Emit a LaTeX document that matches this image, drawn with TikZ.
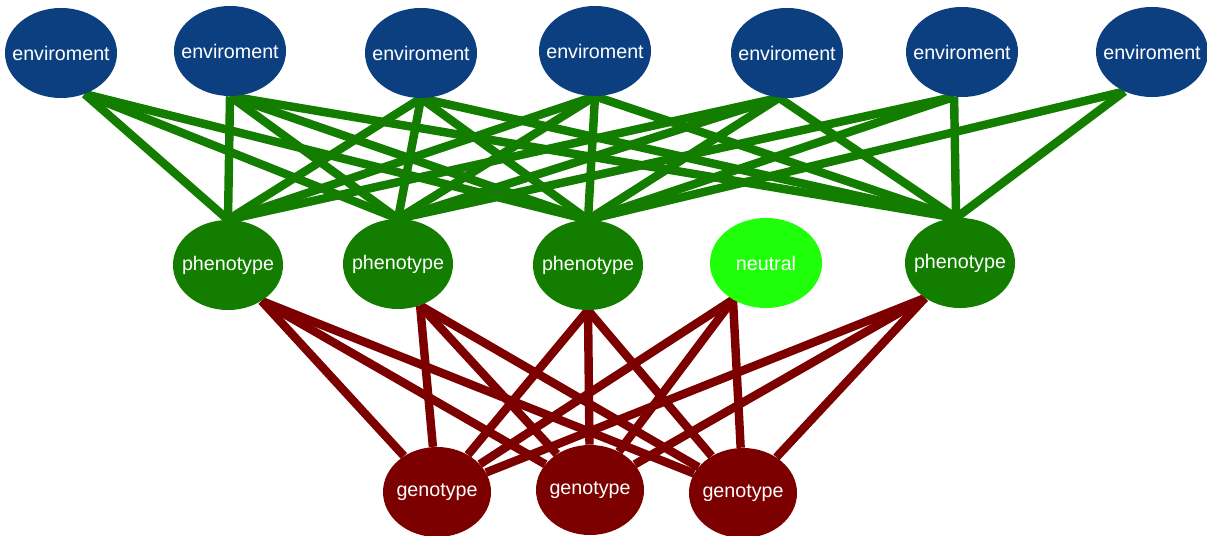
\documentclass[tikz,border=0pt]{standalone}
\usepackage{fontspec}
\setmainfont{Liberation Sans}
\usepackage{tikz}
\usetikzlibrary{shapes.geometric,backgrounds}
\definecolor{envblue}{RGB}{11, 63, 128}
\definecolor{phenogreen}{RGB}{19, 125, 0}
\definecolor{neutralgreen}{RGB}{32, 255, 10}
\definecolor{genored}{RGB}{125, 0, 0}
\newcommand{\blobtext}[1]{\makebox[0pt]{#1}}
\tikzstyle{blob}=[shape=ellipse, inner sep=0pt, text=white, font=\fontsize{14}{16}\selectfont]
\tikzstyle{envnode}=[blob, fill=envblue, minimum width=2.8cm, minimum height=2.25cm]
\tikzstyle{phenonode}=[blob, fill=phenogreen, minimum width=2.75cm, minimum height=2.25cm]
\tikzstyle{neutralnode}=[blob, fill=neutralgreen, minimum width=2.8cm, minimum height=2.25cm]
\tikzstyle{genonode}=[blob, fill=genored, minimum width=2.7cm, minimum height=2.25cm]
\tikzstyle{envlink}=[line width=6pt, color=phenogreen]
\tikzstyle{genolink}=[line width=6pt, color=genored]

\begin{document}
\begin{tikzpicture}[x=0.025cm, y=-0.025cm]
    \useasboundingbox (0,0) rectangle (1207,536);

    % Environment nodes
    \node[envnode] (env1) at (61,53) {\blobtext{enviroment}};
    \node[envnode] (env2) at (230,51) {\blobtext{enviroment}};
    \node[envnode] (env3) at (421,53) {\blobtext{enviroment}};
    \node[envnode] (env4) at (595,51) {\blobtext{enviroment}};
    \node[envnode] (env5) at (787,53) {\blobtext{enviroment}};
    \node[envnode] (env6) at (962,52) {\blobtext{enviroment}};
    \node[envnode] (env7) at (1152,52) {\blobtext{enviroment}};

    % Phenotype nodes
    \node[phenonode] (pheno1) at (228,265) {\blobtext{phenotype}};
    \node[phenonode] (pheno2) at (398,264) {\blobtext{phenotype}};
    \node[phenonode] (pheno3) at (588,265) {\blobtext{phenotype}};
    \node[neutralnode] (neutral) at (766,263) {\blobtext{neutral}};
    \node[phenonode] (pheno4) at (960,263) {\blobtext{phenotype}};

    % Genotype nodes
    \node[genonode] (geno1) at (437,492) {\blobtext{genotype}};
    \node[genonode] (geno2) at (590,490) {\blobtext{genotype}};
    \node[genonode] (geno3) at (743,493) {\blobtext{genotype}};

    \begin{scope}[on background layer]
    % Environment to phenotype
    \draw[envlink] (env1.-60) -- (pheno1.north);
    \draw[envlink] (env1.-60) -- (pheno2.north);
    \draw[envlink] (env1.-60) -- (pheno3.north);
    \draw[envlink] (env2.south) -- (pheno1.north);
    \draw[envlink] (env2.south) -- (pheno2.north);
    \draw[envlink] (env2.south) -- (pheno3.north);
    \draw[envlink] (env2.south) -- (pheno4.95);
    \draw[envlink] (env3.south) -- (pheno1.north);
    \draw[envlink] (env3.south) -- (pheno2.north);
    \draw[envlink] (env3.south) -- (pheno3.north);
    \draw[envlink] (env3.south) -- (pheno4.95);
    \draw[envlink] (env4.south) -- (pheno1.north);
    \draw[envlink] (env4.south) -- (pheno2.north);
    \draw[envlink] (env4.south) -- (pheno3.north);
    \draw[envlink] (env4.south) -- (pheno4.95);
    \draw[envlink] (env5.-100) -- (pheno1.north);
    \draw[envlink] (env5.-100) -- (pheno2.north);
    \draw[envlink] (env5.-100) -- (pheno3.north);
    \draw[envlink] (env5.-100) -- (pheno4.95);
    \draw[envlink] (env6.-100) -- (pheno2.north);
    \draw[envlink] (env6.-100) -- (pheno3.north);
    \draw[envlink] (env6.-100) -- (pheno4.95);
    \draw[envlink] (env7.-125) -- (pheno3.north);
    \draw[envlink] (env7.-125) -- (pheno4.95);

    % Phenotype to genotype
    \draw[genolink] (pheno1.-47) -- (geno1);
    \draw[genolink] (pheno1.-47) -- (geno2);
    \draw[genolink] (pheno1.-47) -- (geno3);
    \draw[genolink] (pheno2.-62) -- (geno1);
    \draw[genolink] (pheno2.-62) -- (geno2);
    \draw[genolink] (pheno2.-62) -- (geno3);
    \draw[genolink] (pheno3.south) -- (geno1);
    \draw[genolink] (pheno3.south) -- (geno2);
    \draw[genolink] (pheno3.south) -- (geno3);
    \draw[genolink] (neutral.-132) -- (geno1);
    \draw[genolink] (neutral.-132) -- (geno2);
    \draw[genolink] (neutral.-132) -- (geno3);
    \draw[genolink] (pheno4.-135) -- (geno1);
    \draw[genolink] (pheno4.-135) -- (geno2);
    \draw[genolink] (pheno4.-135) -- (geno3);
    \end{scope}

\end{tikzpicture}
\end{document}
